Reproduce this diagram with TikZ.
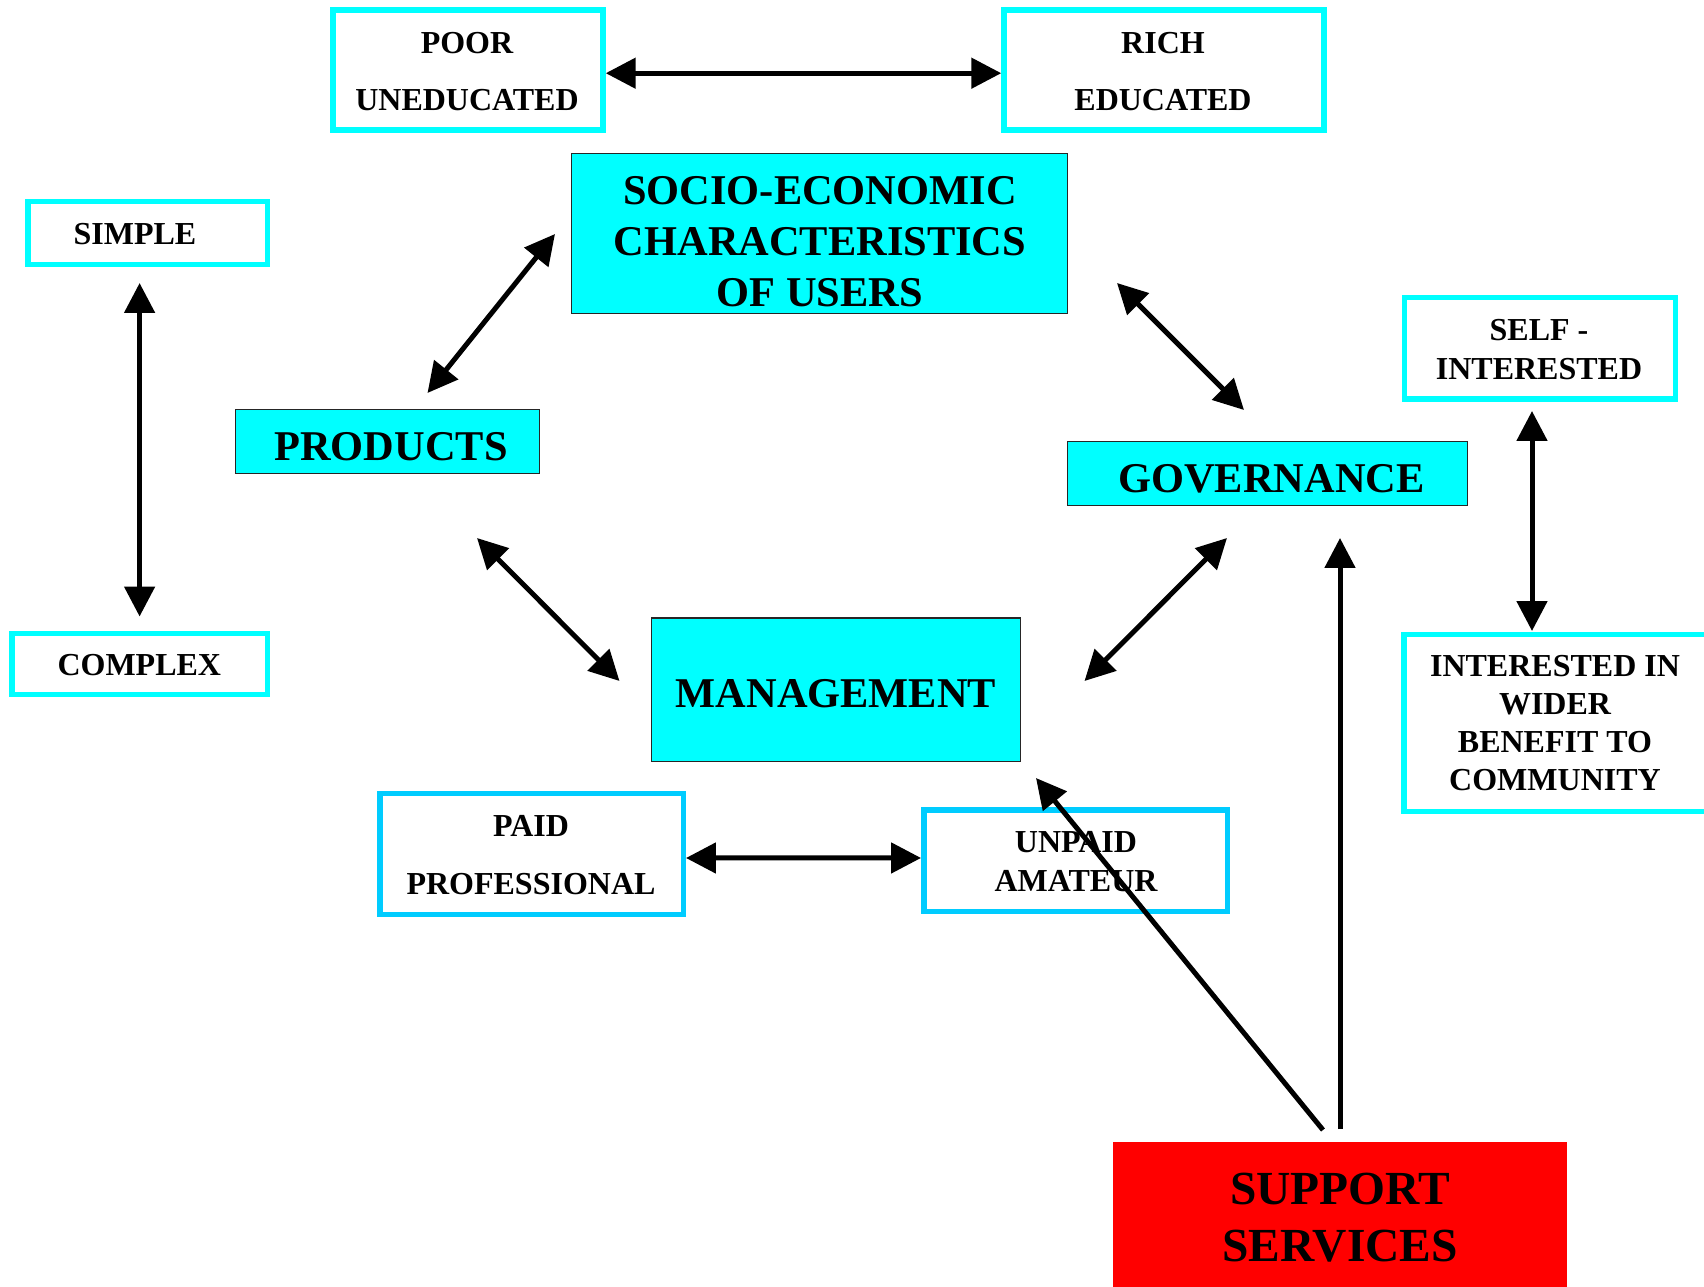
\documentclass[tikz,border=0pt]{standalone}
\usepackage{fontspec}
\setmainfont{Liberation Serif}
\usetikzlibrary{arrows.meta}
\definecolor{cy}{RGB}{0,255,255}
\definecolor{sky}{RGB}{0,204,255}
\definecolor{rd}{RGB}{255,0,0}
\begin{document}
\begin{tikzpicture}[x=0.75pt,y=-0.75pt,
  obox/.style={draw=cy, line width=4.1pt, fill=white, inner sep=0pt},
  sbox/.style={draw=sky, line width=4.1pt, fill=white, inner sep=0pt},
  fbox/.style={draw=black!85, line width=1.1pt, fill=cy, inner sep=0pt},
  rbox/.style={fill=rd, inner sep=0pt},
  smalltxt/.style={font=\bfseries\fontsize{24}{#1}\selectfont, align=center, inner sep=0pt},
  bigtxt/.style={font=\bfseries\fontsize{31.8}{#1}\selectfont, align=center, inner sep=0pt},
  hugetxt/.style={font=\bfseries\fontsize{35.6}{#1}\selectfont, align=center, inner sep=0pt},
  tip/.tip={Triangle[length=22.5pt,width=22.5pt]},
  both/.style={line width=3.75pt, tip-tip},
  one/.style={line width=3.75pt, -tip},
]
\path[use as bounding box, fill=white] (0,0) rectangle (1704,1287);

% boxes
\node[obox, minimum width=202.5pt, minimum height=90pt] (poor) at (468,70) {};
\node[obox, minimum width=240pt, minimum height=90pt] (rich) at (1164,70) {};
\node[fbox, minimum width=372pt, minimum height=120pt] (socio) at (819.5,233.5) {};
\node[obox, minimum width=179.6pt, minimum height=46.9pt] (simple) at (147.5,233) {};
\node[obox, minimum width=191.6pt, minimum height=45.4pt] (complex) at (139.5,664) {};
\node[fbox, minimum width=228pt, minimum height=48pt] (products) at (387.5,441.5) {};
\node[fbox, minimum width=300pt, minimum height=48pt] (gov) at (1267.5,473.5) {};
\node[obox, minimum width=203.25pt, minimum height=76.1pt] (self) at (1540,348.5) {};
\node[obox, minimum width=231pt, minimum height=132.4pt] (wider) at (1558,723) {};
\node[fbox, minimum width=276.4pt, minimum height=107.6pt] (mgmt) at (836,689.5) {};
\node[sbox, minimum width=227.6pt, minimum height=90.4pt] (paid) at (531.5,854) {};
\node[sbox, minimum width=227.6pt, minimum height=76.1pt] (unpaid) at (1075.5,860.5) {};
\node[rbox, minimum width=340.5pt, minimum height=113.25pt] (support) at (1340,1217.5) {};

% texts
\node[smalltxt=43.1pt] (poort) at (467,71.3) {POOR\\UNEDUCATED};
\node[smalltxt=43.1pt] (richt) at (1163,71.3) {RICH\\EDUCATED};
\node[bigtxt=38.25pt] (sociot) at (820,242) {SOCIO-ECONOMIC\\CHARACTERISTICS\\OF USERS};
\node[smalltxt=24pt] (simplet) at (135,234) {SIMPLE};
\node[smalltxt=24pt] (complext) at (139.3,665.5) {COMPLEX};
\node[bigtxt=31.5pt] (productst) at (391,446.5) {PRODUCTS};
\node[bigtxt=31.5pt] (govt) at (1271.5,478.5) {GOVERNANCE};
\node[smalltxt=29.25pt] (selft) at (1539,349.5) {SELF -\\INTERESTED};
\node[smalltxt=28.5pt] (widert) at (1555,723) {INTERESTED IN\\WIDER\\BENEFIT TO\\COMMUNITY};
\node[bigtxt=31.5pt] (mgmtt) at (836,694) {MANAGEMENT};
\node[smalltxt=43.5pt] (paidt) at (531,855) {PAID\\PROFESSIONAL};
\node[smalltxt=29.25pt] (unpaidt) at (1076,862) {UNPAID\\AMATEUR};
\node[hugetxt=42.75pt] (supportt) at (1340,1217.5) {SUPPORT\\SERVICES};

% connector ends
\coordinate (sc1) at (139.6,283);
\coordinate (sc2) at (139.6,616.5);
\coordinate (ps1) at (427.5,393);
\coordinate (ps2) at (555,234);
\coordinate (sg1) at (1117,283);
\coordinate (sg2) at (1244,410);
\coordinate (pm1) at (477,538);
\coordinate (pm2) at (619.5,681);
\coordinate (gm1) at (1227,538);
\coordinate (gm2) at (1084.5,681);
\coordinate (sw1) at (1532,411);
\coordinate (sw2) at (1532,631);
\coordinate (sup1) at (1340,1129);
\coordinate (sup2) at (1340,538);
\coordinate (sup3) at (1323,1130);
\coordinate (sup4) at (1036,778);

% connectors
\draw[both] ([yshift=-2.4pt]poor.east) -- ([yshift=-2.4pt]rich.west);
\draw[both] ([yshift=-3pt]paid.east) -- ([yshift=1.9pt]unpaid.west);
\draw[both] (sc1) -- (sc2);
\draw[both] (ps1) -- (ps2);
\draw[both] (sg1) -- (sg2);
\draw[both] (pm1) -- (pm2);
\draw[both] (gm1) -- (gm2);
\draw[both] (sw1) -- (sw2);
\draw[one] (sup1) -- (sup2);
\draw[one] (sup3) -- (sup4);
\end{tikzpicture}
\end{document}
